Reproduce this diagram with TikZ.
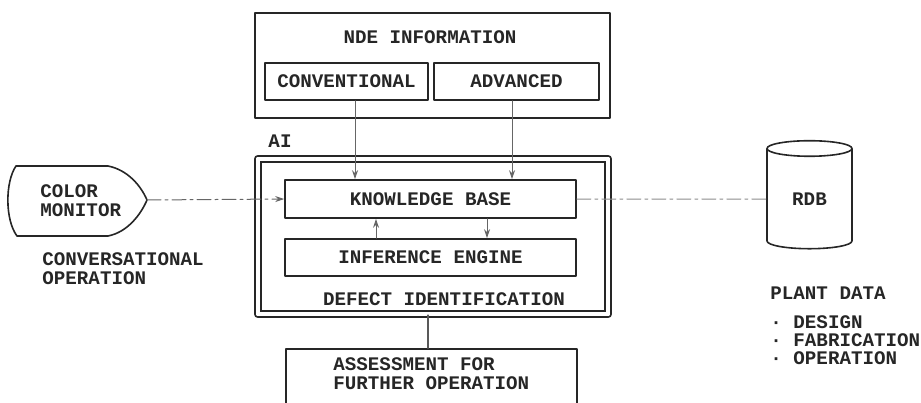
\documentclass[tikz,border=0pt]{standalone}
\usepackage{fontspec}
\setmonofont{Liberation Mono}
\usetikzlibrary{shapes.geometric,arrows.meta}

\tikzset{
  box/.style={draw=black!85,line width=0.8pt,inner sep=0pt},
  lbl/.style={inner sep=0pt,align=left},
  feed/.style={draw=black!60,line width=0.5pt,-{Stealth[length=4.5pt,width=3pt]}},
  link/.style={draw=black!45,line width=0.5pt,dash pattern=on 7pt off 2pt on 1.5pt off 2pt},
}

\begin{document}
\begin{tikzpicture}[x=0.5pt,y=-0.5pt,line cap=round,line join=round,
    font=\ttfamily\bfseries\fontsize{9.6}{9.6}\selectfont,text=black!85]
  \useasboundingbox (0,0) rectangle (921,402);
  \clip (0,0) rectangle (921,402);

  % NDE information block
  \node[box,minimum width=177.5pt,minimum height=52.5pt] (nde) at (432.5,65.5) {};
  \node[lbl] (ndetitle) at (430,37) {NDE INFORMATION};
  \node[box,minimum width=81.5pt,minimum height=18.5pt] (conv) at (346.5,81.5) {CONVENTIONAL};
  \node[box,minimum width=82.5pt,minimum height=18.5pt] (adv) at (516.5,81.5) {ADVANCED};

  % AI block
  \node[lbl] (ailbl) at (280,141) {AI};
  \node[box,double,double distance=2.2pt,minimum width=175.25pt,minimum height=77.75pt] (ai) at (433,236.5) {};
  \node[box,minimum width=145.5pt,minimum height=19pt] (kb) at (430.5,199) {KNOWLEDGE BASE};
  \node[box,minimum width=145.5pt,minimum height=18.5pt] (ie) at (430.5,257.5) {INFERENCE ENGINE};
  \node[lbl] (defect) at (444,299) {DEFECT IDENTIFICATION};

  % assessment
  \node[box,minimum width=145.5pt,minimum height=35.5pt] (asm) at (431.5,384.5) {};
  \node[lbl,anchor=west] (asmlbl) at (333,374) {ASSESSMENT FOR\\FURTHER OPERATION};

  % colour monitor
  \draw[line width=0.8pt,draw=black!85] (16,166) -- (108,166)
    .. controls (128,170) and (141,186) .. (147,200)
    .. controls (141,214) and (128,232) .. (108,236) -- (17,236)
    .. controls (5,220) and (5,182) .. (16,166) -- cycle;
  \coordinate (mon) at (147,200);
  \node[lbl,anchor=west] (monlbl) at (40,201) {COLOR\\MONITOR};
  \node[lbl,anchor=west] (convop) at (42,269) {CONVERSATIONAL\\OPERATION};

  % database
  \node[box,cylinder,shape border rotate=90,aspect=0.45,
    minimum width=42.5pt,minimum height=54pt] (rdb) at (809.5,199) {RDB};
  \node[lbl,anchor=north west] (plant) at (770,286)
    {PLANT DATA\\[5pt]\textperiodcentered\ DESIGN\\[-0.6pt]\textperiodcentered\ FABRICATION\\[-0.6pt]\textperiodcentered\ OPERATION};

  % connectors
  \draw[feed] ([shift={(8.5,0)}]conv.south) -- ([shift={(8.5,0)}]conv.south |- kb.north);
  \draw[feed] ([shift={(-4.5,0)}]adv.south) -- ([shift={(-4.5,0)}]adv.south |- kb.north);
  \draw[feed] ([shift={(-54.5,0)}]ie.north) -- ([shift={(-54.5,0)}]ie.north |- kb.south);
  \draw[feed] ([shift={(56.5,0)}]kb.south) -- ([shift={(56.5,0)}]kb.south |- ie.north);
  \draw[feed,dash pattern=on 7pt off 2pt on 1.5pt off 2pt] (mon) -- (kb.west);
  \draw[link] (kb.east) -- (rdb.west);
  \draw[draw=black!65,line width=0.6pt] ([shift={(-5,0)}]ai.south) -- ([shift={(-5,0)}]ai.south |- asm.north);
\end{tikzpicture}
\end{document}
